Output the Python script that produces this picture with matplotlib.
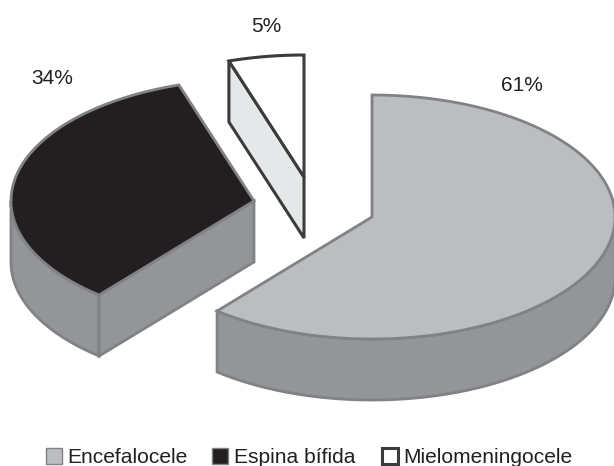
import numpy as np
import matplotlib.pyplot as plt
from matplotlib.patches import Polygon, Rectangle

plt.rcParams['font.family'] = ['Liberation Sans', 'DejaVu Sans']

categories = ['Encefalocele', 'Espina bífida', 'Mielomeningocele']
values = [61, 34, 5]
value_labels = ['61%', '34%', '5%']

# colores: cara superior, pared lateral, borde
top_colors = ['#bcbdc0', '#231f20', '#ffffff']
side_colors = ['#939598', '#939598', '#e6e7e8']
edge_colors = ['#808285', '#808285', '#3a3c3c']
edge_widths = [2.0, 2.0, 2.2]

# centro de cada porcion separada, en pixeles
centers = [(372, 217), (254, 201), (304, 177)]
label_pos = [(522, 91), (52.5, 84), (266, 32)]
legend_box_x = [45.5, 211.5, 381.5]
legend_text_x = [67, 233.5, 403.5]

RX, RY = 243, 122
DEPTH = 61


def rim(cx, cy, a0, a1, n=120):
    # angulos en sentido horario desde las 12
    t = np.radians(np.linspace(a0, a1, n))
    return np.column_stack([cx + RX * np.sin(t), cy - RY * np.cos(t)])


fig = plt.figure(figsize=(6.14, 4.66), dpi=100)
ax = fig.add_axes([0, 0, 1, 1])
ax.set_xlim(0, 614)
ax.set_ylim(466, 0)
ax.axis('off')

ends = np.cumsum(values) / sum(values) * 360
starts = np.r_[0, ends[:-1]]
shift = np.array([0, DEPTH])

for i in range(len(values)):
    cx, cy = centers[i]
    a0, a1 = starts[i], ends[i]
    style = dict(edgecolor=edge_colors[i], linewidth=edge_widths[i], joinstyle='miter')

    # pared curva: solo la parte que mira hacia el frente
    w0, w1 = max(a0, 90), min(a1, 270)
    if w0 < w1:
        arc = rim(cx, cy, w0, w1)
        ax.add_patch(Polygon(np.vstack([arc, (arc + shift)[::-1]]),
                             facecolor=side_colors[i], **style))

    # cara radial visible
    if i > 0:
        p = rim(cx, cy, a0, a0, 1)[0]
        c = np.array([cx, cy])
        ax.add_patch(Polygon([c, p, p + shift, c + shift],
                             facecolor=side_colors[i], **style))

    # cara superior
    ax.add_patch(Polygon(np.vstack([[cx, cy], rim(cx, cy, a0, a1)]),
                         facecolor=top_colors[i], **style))

    ax.text(label_pos[i][0], label_pos[i][1], value_labels[i], ha='center', va='baseline',
            fontsize=15, color='#231f20')

    # leyenda
    ax.add_patch(Rectangle((legend_box_x[i], 447.5), 16, 16.5, facecolor=top_colors[i],
                           edgecolor=edge_colors[i], linewidth=1.0 if i < 2 else 2.2))
    ax.text(legend_text_x[i], 463, categories[i], ha='left', va='baseline',
            fontsize=15.1, color='#231f20')

fig.savefig('out.png', dpi=100)
